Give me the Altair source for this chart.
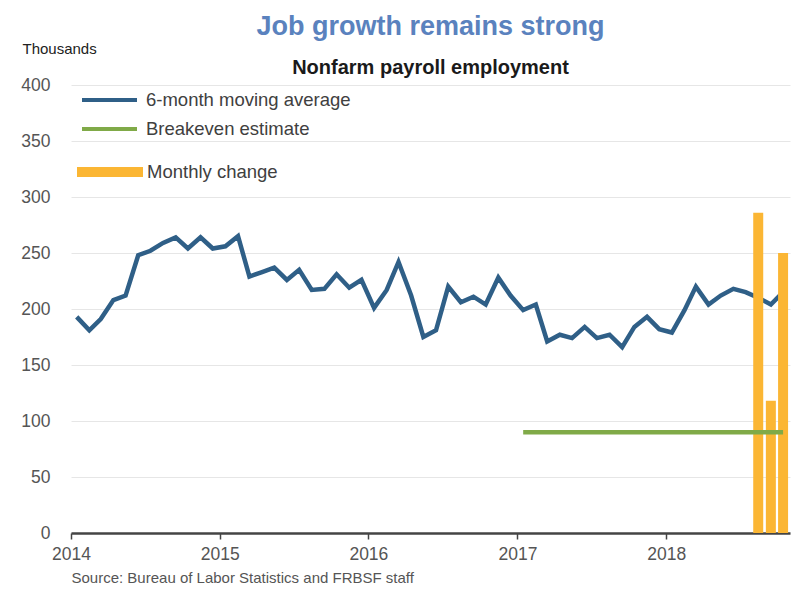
import altair as alt
import pandas as pd

# ---- data ----
years = [2014, 2015, 2016, 2017, 2018]
moving_avg = [193, 181, 191, 208, 212, 248, 252, 259, 264, 254, 264, 254,
              256, 265, 229, 233, 237, 226, 235, 217, 218, 231, 219, 226,
              201, 217, 242, 212, 175, 181, 220, 206, 211, 204, 228, 212,
              199, 204, 171, 177, 174, 184, 174, 177, 166, 184, 193, 182,
              179, 199, 220, 204, 212, 218, 215, 210, 204, 215]
breakeven_months = ["2017-01", "2018-10"]
breakeven_vals = [90, 90]
monthly_months = ["2018-08", "2018-09", "2018-10"]
monthly_vals = [286, 118, 250]

S_MA = "6-month moving average"
S_BE = "Breakeven estimate"
S_MC = "Monthly change"

def mid(ym):
    return ym + "-15T00:00:00"

ma_months = [f"{y}-{m:02d}" for y in years for m in range(1, 13)][:len(moving_avg)]

ma_df = pd.DataFrame({"date": [mid(m) for m in ma_months], "value": moving_avg, "series": S_MA})
be_df = pd.DataFrame({"date": [mid(m) for m in breakeven_months], "value": breakeven_vals, "series": S_BE})
mc_df = pd.DataFrame({"date": [mid(m) for m in monthly_months], "value": monthly_vals, "series": S_MC})

BLUE = "#2f5f87"
GREEN = "#80aa48"
ORANGE = "#fbb634"
FONT = "Liberation Sans"
W, H = 719, 448

x_enc = alt.X(
    "date:T",
    scale=alt.Scale(domain=[alt.DateTime(year=2014, month=1, date=1),
                            alt.DateTime(year=2018, month=11, date=1)],
                    padding=0),
    axis=alt.Axis(
        values=[alt.DateTime(year=y, month=1, date=1) for y in years],
        format="%Y", grid=False, labelFlush=False,
        labelFontSize=17.5, labelColor="#555555", labelPadding=6,
        domainColor="#444444", domainWidth=2.5,
        tickColor="#444444", tickWidth=1.5, tickSize=6,
        title="Source: Bureau of Labor Statistics and FRBSF staff",
        titleFontSize=15, titleFontWeight="normal", titleColor="#555555",
        titleAnchor="start", titleAlign="left", titleX=0, titleY=44,
        titleBaseline="middle", titleLimit=700,
    ),
)
y_enc = alt.Y(
    "value:Q",
    scale=alt.Scale(domain=[0, 400], padding=0),
    axis=alt.Axis(
        values=list(range(0, 401, 50)),
        grid=True, gridColor="#e6e6e6", gridWidth=1,
        domain=False, ticks=False,
        labelFontSize=17.5, labelColor="#555555", labelPadding=21,
        title="Thousands", titleAngle=0, titleAlign="left", titleBaseline="middle",
        titleX=-49, titleY=-37, titleFontSize=15, titleFontWeight="normal",
        titleColor="#222222",
    ),
)

color_scale = alt.Scale(domain=[S_MA, S_BE], range=[BLUE, GREEN])
line_legend = alt.Legend(
    title=None, orient="none", legendX=9, legendY=1.5,
    symbolType="stroke", symbolSize=3025, symbolStrokeWidth=4,
    labelFontSize=18.5, labelColor="#404040", labelFont=FONT, labelLimit=400,
    labelOffset=7, clipHeight=27, rowPadding=2, padding=0, offset=0,
)
bar_legend = alt.Legend(
    title=None, orient="none", legendX=6, legendY=54,
    symbolType="M-1,-0.15L1,-0.15L1,0.15L-1,0.15Z", symbolSize=4356,
    symbolStrokeWidth=0, symbolOpacity=1,
    labelFontSize=18.5, labelColor="#404040", labelFont=FONT, labelLimit=400,
    labelOffset=4, padding=0, offset=0,
)

ma_line = alt.Chart(ma_df).mark_line(strokeWidth=4.5).encode(
    x=x_enc, y=y_enc,
    color=alt.Color("series:N", scale=color_scale, legend=line_legend),
)
bars = alt.Chart(mc_df).mark_bar(size=10).encode(
    x=x_enc, y=y_enc,
    fill=alt.Fill("series:N", scale=alt.Scale(domain=[S_MC], range=[ORANGE]), legend=bar_legend),
)
be_line = alt.Chart(be_df).mark_line(strokeWidth=4.5).encode(
    x=x_enc, y=y_enc,
    color=alt.Color("series:N", scale=color_scale, legend=line_legend),
)

chart = alt.layer(ma_line, bars, be_line).properties(
    width=W, height=H,
    title=alt.TitleParams(
        text="Job growth remains strong",
        subtitle="Nonfarm payroll employment",
        anchor="middle", frame="group",
        font=FONT, fontSize=27, fontWeight="bold", color="#5a82be",
        subtitleFont=FONT, subtitleFontSize=20, subtitleFontWeight="bold",
        subtitleColor="#1a1a1a", subtitlePadding=17, offset=-38,
    ),
    autosize=alt.AutoSizeParams(type="none"),
    padding={"left": 63, "top": 77, "right": 5, "bottom": 60},
).configure(
    font=FONT, background="white",
).configure_view(stroke=None)

chart.save("out.html", embed_options={"renderer": "svg", "actions": False})
